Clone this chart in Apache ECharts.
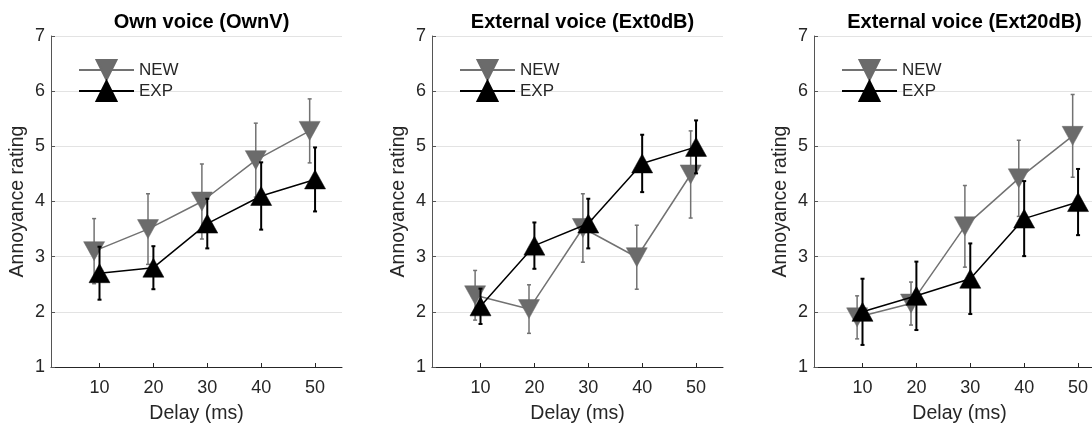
<!DOCTYPE html>
<html><head><meta charset="utf-8">
<script src="https://cdn.jsdelivr.net/npm/echarts@6/dist/echarts.min.js"></script>
<style>html,body{margin:0;padding:0;background:#fff}#c{width:1092px;height:426px}</style>
</head><body><div id="c"></div>
<script>
// ---- data ----
const delays = [10, 20, 30, 40, 50];
const xTickLabels = [10, 20, 30, 40, 50];
const yTickLabels = [1, 2, 3, 4, 5, 6, 7];
const panelTitles = ['Own voice (OwnV)', 'External voice (Ext0dB)', 'External voice (Ext20dB)'];
const seriesNames = ['NEW', 'EXP'];
const newXOffset = -1; // NEW condition plotted 1 ms to the left

const newMean_OwnV = [3.10, 3.50, 4.00, 4.75, 5.28];
const newSd_OwnV   = [0.59, 0.64, 0.68, 0.67, 0.58];
const expMean_OwnV = [2.70, 2.80, 3.60, 4.10, 4.40];
const expSd_OwnV   = [0.48, 0.39, 0.45, 0.61, 0.58];

const newMean_Ext0 = [2.30, 2.05, 3.52, 2.99, 4.49];
const newSd_Ext0   = [0.45, 0.44, 0.62, 0.58, 0.79];
const expMean_Ext0 = [2.10, 3.20, 3.60, 4.69, 4.99];
const expSd_Ext0   = [0.32, 0.42, 0.45, 0.52, 0.48];

const newMean_Ext20 = [1.90, 2.15, 3.55, 4.42, 5.19];
const newSd_Ext20   = [0.39, 0.39, 0.74, 0.69, 0.75];
const expMean_Ext20 = [2.00, 2.29, 2.60, 3.69, 3.99];
const expSd_Ext20   = [0.60, 0.62, 0.64, 0.68, 0.60];

const panels = [
  {newM: newMean_OwnV, newS: newSd_OwnV, expM: expMean_OwnV, expS: expSd_OwnV},
  {newM: newMean_Ext0, newS: newSd_Ext0, expM: expMean_Ext0, expS: expSd_Ext0},
  {newM: newMean_Ext20, newS: newSd_Ext20, expM: expMean_Ext20, expS: expSd_Ext20}
];

// ---- layout / style ----
const FONT = 'Liberation Sans, Arial, Helvetica, sans-serif';
const TXT = '#262626';
const NEWC = '#6b6b6b', NEWL = '#727272', EXPC = '#000000';
const gridLefts = [51, 432, 814];
const gridW = 291, gridTop = 36, gridH = 331;

function errRender(color, width) {
  return function (params, api) {
    const x = api.value(0), lo = api.value(1), hi = api.value(2);
    const p1 = api.coord([x, lo]), p2 = api.coord([x, hi]);
    const c = 2;
    const st = {stroke: color, lineWidth: width};
    return {type: 'group', children: [
      {type: 'line', shape: {x1: p1[0], y1: p1[1], x2: p2[0], y2: p2[1]}, style: st},
      {type: 'line', shape: {x1: p1[0] - c, y1: p1[1], x2: p1[0] + c, y2: p1[1]}, style: st},
      {type: 'line', shape: {x1: p2[0] - c, y1: p2[1], x2: p2[0] + c, y2: p2[1]}, style: st}
    ]};
  };
}

const grid = [], xAxis = [], yAxis = [], series = [], title = [], legend = [];
panels.forEach((p, i) => {
  grid.push({left: gridLefts[i], top: gridTop, width: gridW, height: gridH,
    containLabel: false, outerBoundsMode: 'none'});
  title.push({text: panelTitles[i], left: gridLefts[i] + gridW / 2, top: 7, textAlign: 'center',
    textStyle: {fontFamily: FONT, fontSize: 20, fontWeight: 'bold', color: '#000'}});
  legend.push({left: gridLefts[i] + 27, top: 59, orient: 'vertical', padding: 0,
    itemWidth: 55, itemHeight: 25, itemGap: -1, selectedMode: false, data: seriesNames,
    textStyle: {fontFamily: FONT, fontSize: 17, color: TXT}});
  xAxis.push({gridIndex: i, type: 'value', min: 1, max: 55,
    name: 'Delay (ms)', nameLocation: 'middle', nameGap: 37,
    nameTextStyle: {fontFamily: FONT, fontSize: 19.5, color: TXT},
    axisLine: {show: true, lineStyle: {color: TXT, width: 1}},
    axisTick: {show: true, inside: true, length: 4, customValues: xTickLabels, lineStyle: {color: TXT}},
    axisLabel: {customValues: xTickLabels, fontFamily: FONT, fontSize: 18, color: TXT, margin: 12},
    splitLine: {show: false}});
  yAxis.push({gridIndex: i, type: 'value', min: 1, max: 7, interval: 1,
    name: 'Annoyance rating', nameLocation: 'middle', nameGap: 23,
    nameTextStyle: {fontFamily: FONT, fontSize: 19.5, color: TXT},
    axisLine: {show: true, lineStyle: {color: '#555', width: 1}},
    axisTick: {show: true, inside: true, length: 4, lineStyle: {color: '#555'}},
    axisLabel: {fontFamily: FONT, fontSize: 18, color: TXT, margin: 6,
      formatter: v => yTickLabels.includes(v) ? String(v) : ''},
    splitLine: {show: true, lineStyle: {color: '#e3e3e3', width: 1}}});

  const newX = delays.map(d => d + newXOffset);
  series.push({type: 'custom', name: 'NEW-err', xAxisIndex: i, yAxisIndex: i, z: 2,
    renderItem: errRender(NEWL, 1.5),
    data: newX.map((x, k) => [x, p.newM[k] - p.newS[k], p.newM[k] + p.newS[k]])});
  series.push({type: 'line', name: 'NEW', xAxisIndex: i, yAxisIndex: i, z: 3,
    data: newX.map((x, k) => [x, p.newM[k]]),
    symbol: 'triangle', symbolRotate: 180, symbolSize: [21, 19], showSymbol: true,
    lineStyle: {color: NEWL, width: 1.5}, itemStyle: {color: NEWC, borderColor: NEWC, borderWidth: 0.5},
    emphasis: {disabled: true}, animation: false});
  series.push({type: 'custom', name: 'EXP-err', xAxisIndex: i, yAxisIndex: i, z: 4,
    renderItem: errRender(EXPC, 2),
    data: delays.map((x, k) => [x, p.expM[k] - p.expS[k], p.expM[k] + p.expS[k]])});
  series.push({type: 'line', name: 'EXP', xAxisIndex: i, yAxisIndex: i, z: 5,
    data: delays.map((x, k) => [x, p.expM[k]]),
    symbol: 'triangle', symbolSize: [21, 19], showSymbol: true,
    lineStyle: {color: EXPC, width: 1.5}, itemStyle: {color: EXPC, borderColor: EXPC, borderWidth: 0.5},
    emphasis: {disabled: true}, animation: false});
});

const chart = echarts.init(document.getElementById('c'), null, {renderer: 'canvas'});
chart.setOption({backgroundColor: '#fff', animation: false, title, legend, grid, xAxis, yAxis, series});
</script></body></html>
